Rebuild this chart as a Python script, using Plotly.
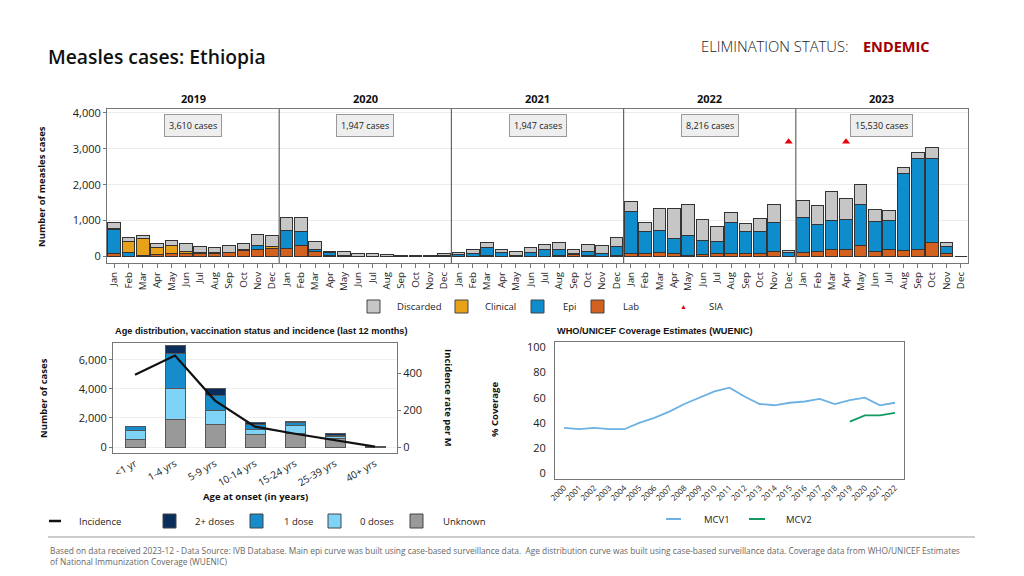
import plotly.graph_objects as go

# ---------------- DATA ----------------
months = ["Jan", "Feb", "Mar", "Apr", "May", "Jun", "Jul", "Aug", "Sep", "Oct", "Nov", "Dec"]
years = ["2019", "2020", "2021", "2022", "2023"]
year_totals = ["3,610 cases", "1,947 cases", "1,947 cases", "8,216 cases", "15,530 cases"]

lab = [95, 10, 20, 65, 95, 95, 75, 75, 110, 160, 190, 215,
       235, 300, 140, 40, 20, 10, 10, 5, 5, 10, 10, 10,
       15, 15, 20, 15, 10, 15, 15, 20, 70, 20, 15, 30,
       75, 75, 105, 75, 20, 45, 75, 75, 95, 95, 130, 5,
       115, 150, 205, 195, 300, 150, 195, 160, 190, 385, 95, 0]
epi = [650, 110, 0, 0, 0, 0, 0, 0, 0, 0, 130, 0,
       500, 395, 65, 65, 10, 5, 5, 0, 5, 5, 10, 20,
       40, 80, 240, 85, 30, 85, 175, 185, 5, 120, 65, 260,
       1185, 610, 630, 440, 580, 415, 355, 865, 610, 600, 810, 120,
       970, 735, 790, 830, 1150, 820, 810, 2145, 2530, 2340, 190, 0]
clinical = [30, 310, 470, 180, 205, 45, 45, 25, 0, 30, 0, 65,
            0, 0, 0, 0, 0, 0, 0, 0, 0, 0, 0, 0,
            0, 0, 0, 0, 0, 0, 0, 0, 0, 0, 0, 0,
            0, 0, 0, 0, 0, 0, 0, 0, 0, 0, 0, 0,
            0, 0, 0, 0, 0, 0, 0, 0, 0, 0, 0, 0]
discarded = [180, 100, 95, 130, 160, 235, 150, 140, 190, 160, 290, 300,
             365, 405, 225, 40, 100, 80, 60, 40, 20, 15, 20, 60,
             60, 110, 130, 85, 100, 150, 140, 180, 130, 190, 220, 235,
             270, 270, 610, 830, 845, 565, 395, 280, 215, 365, 505, 30,
             490, 545, 820, 590, 565, 340, 275, 170, 170, 310, 95, 0]
sia_month_index = [47, 51]   # Dec 2022, Apr 2023
sia_level = [3200, 3200]

age_groups = ["<1 yr", "1-4 yrs", "5-9 yrs", "10-14 yrs", "15-24 yrs", "25-39 yrs", "40+ yrs"]
age_unknown = [510, 1910, 1540, 840, 930, 580, 30]
age_zero = [650, 2100, 980, 400, 540, 120, 0]
age_one = [230, 2450, 1030, 280, 210, 120, 0]
age_two = [50, 560, 470, 160, 90, 110, 0]
incidence = [391, 494, 251, 110, 72, 38, 2]

wuenic_years = list(range(2000, 2023))
mcv1 = [36, 35, 36, 35, 35, 40, 44, 49, 55, 60, 65, 68, 61, 55, 54, 56, 57, 59, 55, 58, 60, 54, 56]
mcv2_years = [2019, 2020, 2021, 2022]
mcv2 = [41, 46, 46, 48]

# ---------------- STYLE ----------------
FONT = "Open Sans"
C_DISC, C_CLIN, C_EPI, C_LAB = "#c6c6c6", "#e8a21a", "#0e8ccb", "#d2601e"
C_TWO, C_ONE, C_ZERO, C_UNK = "#0b2d5c", "#168ccb", "#7fd3f7", "#999999"
C_MCV1, C_MCV2 = "#6cb2e2", "#139a63"
EDGE = "#333333"

W, H, OFF = 1016, 568, 8   # page body keeps an 8px margin


def px(x):
    return (x - OFF) / W


def py(y):
    return 1 - (y - OFF) / H


fig = go.Figure()

# ---------------- TOP EPI CURVE ----------------
xm = list(range(len(lab)))
for name, vals, col in [("Lab", lab, C_LAB), ("Epi", epi, C_EPI),
                        ("Clinical", clinical, C_CLIN), ("Discarded", discarded, C_DISC)]:
    fig.add_trace(go.Bar(x=xm, y=vals, name=name, marker=dict(color=col, line=dict(color=EDGE, width=1)),
                         width=0.88, xaxis="x", yaxis="y", showlegend=False))
fig.add_trace(go.Scatter(x=sia_month_index, y=sia_level, mode="markers", name="SIA",
                         marker=dict(symbol="triangle-up", color="#e8000b", size=7),
                         xaxis="x", yaxis="y", showlegend=False))

# ---------------- AGE CHART ----------------
xa = list(range(len(age_groups)))
for name, vals, col in [("Unknown", age_unknown, C_UNK), ("0 doses", age_zero, C_ZERO),
                        ("1 dose", age_one, C_ONE), ("2+ doses", age_two, C_TWO)]:
    fig.add_trace(go.Bar(x=xa, y=vals, name=name, marker=dict(color=col, line=dict(color="#555555", width=1)),
                         width=0.5, xaxis="x2", yaxis="y2", showlegend=False))
fig.add_trace(go.Scatter(x=xa, y=incidence, mode="lines", name="Incidence",
                         line=dict(color="#111111", width=2.2), xaxis="x2", yaxis="y3", showlegend=False))

# ---------------- WUENIC ----------------
fig.add_trace(go.Scatter(x=wuenic_years, y=mcv1, mode="lines", name="MCV1",
                         line=dict(color=C_MCV1, width=1.8), xaxis="x4", yaxis="y4", showlegend=False))
fig.add_trace(go.Scatter(x=mcv2_years, y=mcv2, mode="lines", name="MCV2",
                         line=dict(color=C_MCV2, width=1.8), xaxis="x4", yaxis="y4", showlegend=False))

axis_line = dict(showline=True, linecolor="#777777", linewidth=1, mirror=True, automargin=False)

fig.update_layout(
    width=W, height=H, margin=dict(l=0, r=0, t=0, b=0, autoexpand=False),
    paper_bgcolor="white", plot_bgcolor="white", barmode="stack",
    font=dict(family=FONT, color="#222222"),
    xaxis=dict(domain=[px(107), px(968)], anchor="y", range=[-0.5, 59.5], tickmode="array",
               tickvals=xm, ticktext=months * 5, tickangle=-90, tickfont=dict(size=9.8, color="#222"),
               ticks="outside", ticklen=4, tickcolor="#777", showgrid=False, zeroline=False, **axis_line),
    yaxis=dict(domain=[py(263), py(109)], anchor="x", range=[-180, 4110], tickvals=[0, 1000, 2000, 3000, 4000],
               tickformat=",d", tickfont=dict(size=11, color="#222"), ticks="outside", ticklen=3,
               tickcolor="#777", showgrid=True, gridcolor="#ececec", zeroline=False, **axis_line),
    xaxis2=dict(domain=[px(113), px(397)], anchor="y2", range=[-0.55, 6.55], tickmode="array", tickvals=xa,
                ticktext=age_groups, tickangle=-30, tickfont=dict(size=10, color="#222"),
                showgrid=False, zeroline=False, ticks="", **axis_line),
    yaxis2=dict(domain=[py(453), py(343)], anchor="x2", range=[-414, 7170], tickvals=[0, 2000, 4000, 6000],
                tickformat=",d", tickfont=dict(size=11, color="#222"), ticks="outside", ticklen=3,
                tickcolor="#777", showgrid=True, gridcolor="#efefef", zeroline=False, **axis_line),
    yaxis3=dict(overlaying="y2", anchor="x2", side="right", range=[-32, 562], tickvals=[0, 200, 400],
                tickfont=dict(size=11, color="#222"), ticks="outside", ticklen=3, tickcolor="#777",
                showgrid=False, zeroline=False, showline=False, automargin=False),
    xaxis4=dict(domain=[px(555), px(904)], anchor="y4", range=[1999.4, 2022.6], tickmode="array",
                tickvals=wuenic_years, ticktext=[str(y) for y in wuenic_years], tickangle=-45,
                tickfont=dict(size=8, color="#222"), ticks="", showgrid=False, zeroline=False, **axis_line),
    yaxis4=dict(domain=[py(479), py(342)], anchor="x4", range=[-4.5, 104.2], tickvals=[0, 20, 40, 60, 80, 100],
                tickfont=dict(size=11, color="#222"), ticks="", showgrid=False, zeroline=False,
                ticklabelstandoff=6, **axis_line),
    showlegend=False,
)

ann = []
shapes = []


def text(x, y, s, size, xanchor="left", yanchor="middle", color="#111111", weight="normal",
         family=FONT, angle=0, **kw):
    ann.append(dict(x=px(x), y=py(y), xref="paper", yref="paper", text=s, showarrow=False,
                    xanchor=xanchor, yanchor=yanchor, textangle=angle,
                    font=dict(size=size, color=color, family=family, weight=weight), **kw))


# Header
text(46, 56, "Measles cases: Ethiopia", 19.3, weight=600)
text(851, 46, "ELIMINATION STATUS:", 14.8, xanchor="right", color="#222", weight=300)
text(861, 46, "ENDEMIC", 14.5, color="#a10000", weight="bold")

# Year headers, totals, separators
for i, (yr, tot) in enumerate(zip(years, year_totals)):
    cx = 107 + (i + 0.5) * (968 - 107) / 5
    text(cx, 99, yr, 11, xanchor="center", weight="bold")
    ann.append(dict(x=12 * i + 5.5, y=3640, xref="x", yref="y", text=tot, showarrow=False,
                    font=dict(size=9, color="#222", family=FONT), bgcolor="#eeeeee",
                    bordercolor="#999999", borderwidth=1, borderpad=4))
    if i > 0:
        shapes.append(dict(type="line", xref="x", yref="paper", x0=12 * i - 0.5, x1=12 * i - 0.5,
                           y0=py(263), y1=py(109), line=dict(color="#666666", width=1.2)))

text(42, 187, "Number of measles cases", 9.5, xanchor="center", weight="bold", angle=-90)

# Top legend (manual)
leg_top = [("Discarded", C_DISC, 367, 395), ("Clinical", C_CLIN, 455, 483),
           ("Epi", C_EPI, 531, 561), ("Lab", C_LAB, 591, 621)]
for name, col, sx, tx in leg_top:
    shapes.append(dict(type="rect", xref="paper", yref="paper", x0=px(sx), x1=px(sx + 13),
                       y0=py(313), y1=py(300), fillcolor=col, line=dict(color="#444", width=1)))
    text(tx, 306.5, name, 9.5, color="#222")
text(683, 306, "▲", 7, xanchor="center", color="#e8000b")
text(707, 306.5, "SIA", 9.5, color="#222")

# Age chart titles
text(113, 331, "Age distribution, vaccination status and incidence (last 12 months)", 9.2,
     weight="bold", family="Liberation Sans")
text(43, 398, "Number of cases", 9.5, xanchor="center", weight="bold", angle=-90)
text(449, 398, "Incidence rate per M", 9.5, xanchor="center", weight="bold", angle=90)
text(255, 496, "Age at onset (in years)", 9.5, xanchor="center", weight="bold")

# Age legend (manual)
shapes.append(dict(type="line", xref="paper", yref="paper", x0=px(49), x1=px(61), y0=py(521), y1=py(521),
                   line=dict(color="#111", width=2.5)))
text(77, 521, "Incidence", 9.5, color="#222")
for name, col, sx, tx in [("2+ doses", C_TWO, 163, 193), ("1 dose", C_ONE, 250, 282),
                          ("0 doses", C_ZERO, 328, 358), ("Unknown", C_UNK, 410, 441)]:
    shapes.append(dict(type="rect", xref="paper", yref="paper", x0=px(sx), x1=px(sx + 13),
                       y0=py(528), y1=py(514), fillcolor=col, line=dict(color="#444", width=1)))
    text(tx, 521, name, 9.5, color="#222")

# WUENIC titles
text(555, 331, "WHO/UNICEF Coverage Estimates (WUENIC)", 9.2, weight="bold", family="Liberation Sans")
text(495, 410, "% Coverage", 9.5, xanchor="center", weight="bold", angle=-90)
shapes.append(dict(type="line", xref="paper", yref="paper", x0=px(666), x1=px(681), y0=py(519), y1=py(519),
                   line=dict(color=C_MCV1, width=2)))
text(702, 519, "MCV1", 9.5, color="#222")
shapes.append(dict(type="line", xref="paper", yref="paper", x0=px(749), x1=px(765), y0=py(519), y1=py(519),
                   line=dict(color=C_MCV2, width=2)))
text(784, 519, "MCV2", 9.5, color="#222")

# Footer
shapes.append(dict(type="line", xref="paper", yref="paper", x0=px(48), x1=px(975), y0=py(537), y1=py(537),
                   line=dict(color="#999999", width=1)))
text(48, 550, "Based on data received 2023-12 - Data Source: IVB Database. Main epi curve was built using "
     "case-based surveillance data.  Age distribution curve was built using case-based surveillance data. "
     "Coverage data from WHO/UNICEF Estimates", 8.35, color="#666")
text(48, 561, "of National Immunization Coverage (WUENIC)", 8.35, color="#666")

fig.update_layout(annotations=ann, shapes=shapes)
fig.write_html("out.html")
